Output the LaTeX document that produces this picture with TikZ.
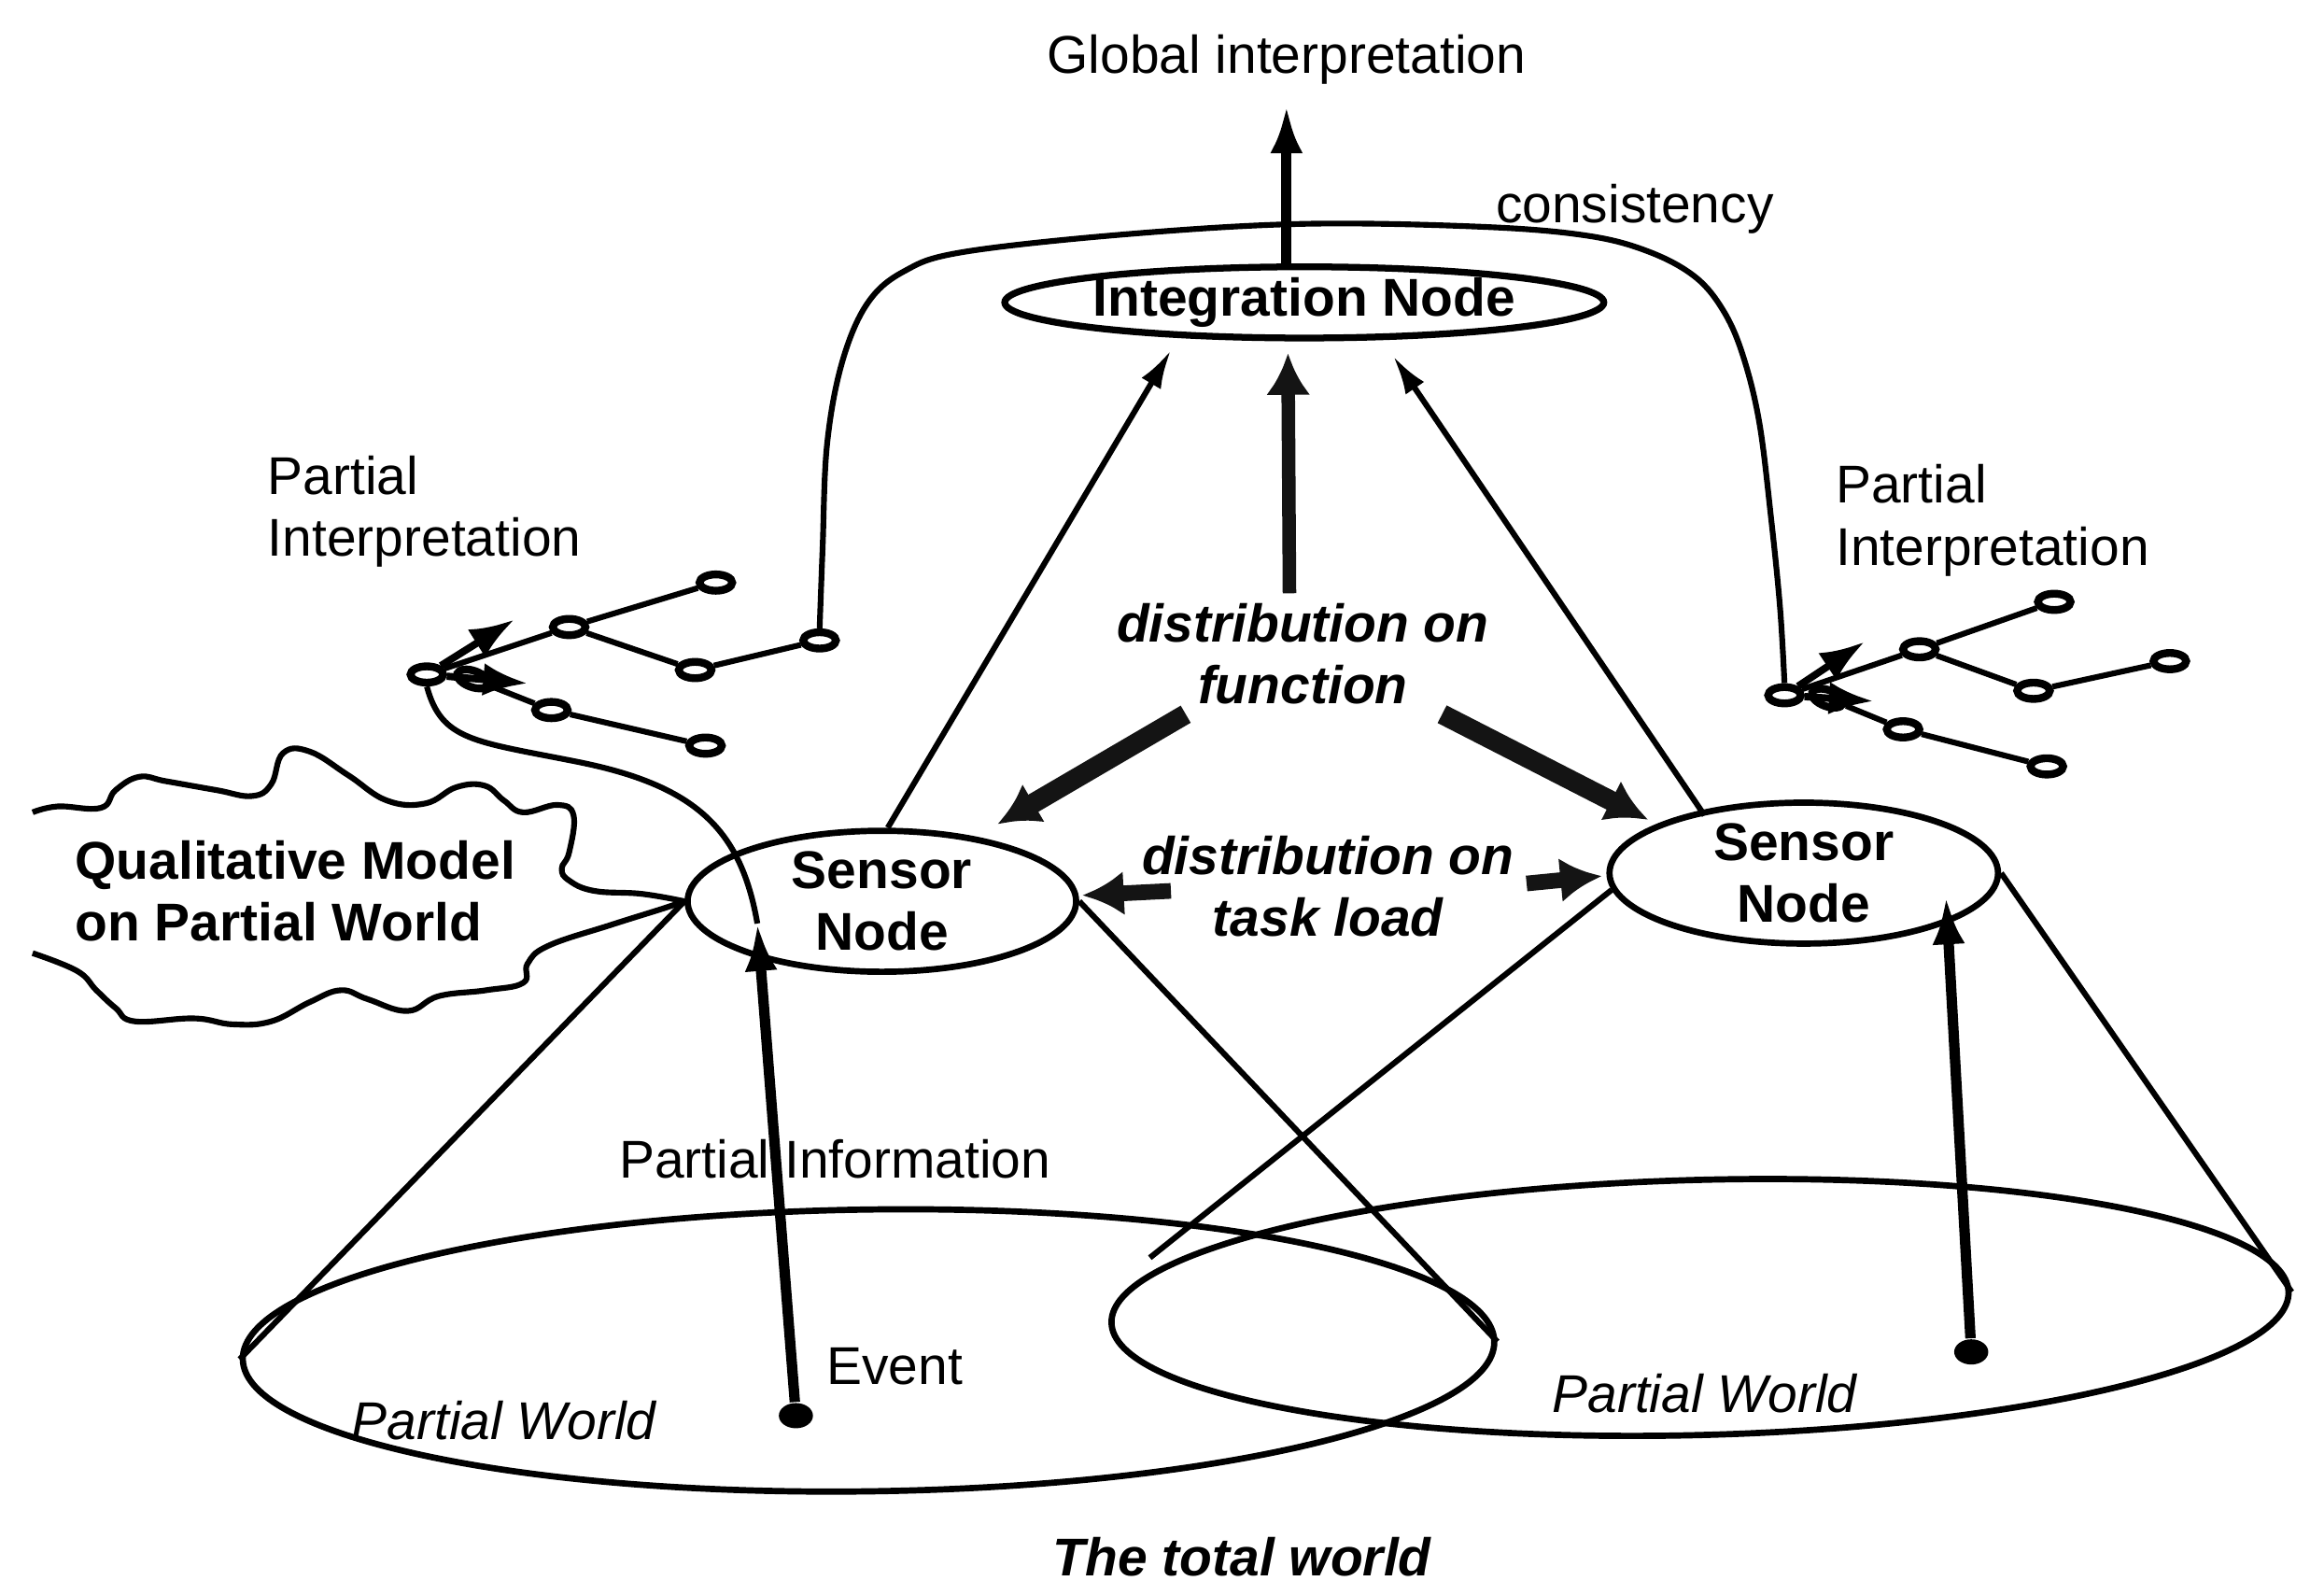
\documentclass[tikz,border=0pt]{standalone}
\usepackage{fontspec}
\setmainfont{Liberation Sans}
\usetikzlibrary{arrows.meta,calc,shapes.geometric}
\newcommand{\lbl}{\fontsize{10.2}{11.9}\selectfont}

\begin{document}
\begin{tikzpicture}[
  x=0.01cm, y=-0.01cm,
  >=Latex,
  font=\lbl,
  every node/.style={inner sep=0pt},
  wire/.style={line width=1.1pt},
  thinarrow/.style={wire, -{Latex[length=2.6mm, width=1.5mm]}},
  fatarrow/.style={line width=2pt, -{Latex[length=3.2mm, width=2.2mm]}},
  fuzzyarrow/.style={line width=#1, black!92, -{Latex[length=2.8mm, width=3mm]}},
  fuzzyarrow/.default=3.8pt,
  treearrow/.style={line width=1.4pt, -{Latex[length=3mm, width=2.2mm]}},
  integbox/.style={
    draw, ellipse, line width=1.3pt,
    minimum width=4.04cm, minimum height=0.48cm, font=\lbl\bfseries,
  },
  sensorbox/.style={
    draw, ellipse, line width=1.2pt, align=center,
    minimum width=2.62cm, minimum height=0.94cm, font=\lbl\bfseries,
  },
  worldbox/.style={draw, ellipse, line width=1.2pt},
  leaf/.style={
    draw, ellipse, line width=1.5pt, fill=white,
    minimum width=0.22cm, minimum height=0.11cm,
  },
  evdot/.style={ellipse, fill, minimum width=0.23cm, minimum height=0.17cm},
  boldlbl/.style={font=\lbl\bfseries, align=left},
  slantlbl/.style={font=\lbl\bfseries\itshape, align=center},
]
\useasboundingbox (0,0) rectangle (1568,1066);

% --- the two partial worlds and their cones ---
\node[worldbox, minimum width=8.44cm, minimum height=1.9cm, rotate=0.8] (lw) at (586,911) {};
\node[worldbox, minimum width=7.94cm, minimum height=1.72cm, rotate=1.5] (rw) at (1147,882) {};

\node[sensorbox] (sl) at (595,608) {Sensor\\Node};
\node[sensorbox] (rs) at (1217,589) {Sensor\\Node};

\draw[wire] (sl.west) -- (lw.west);
\draw[wire] (sl.east) -- (lw.east);
\draw[wire] (rs.185) -- ($(rw.west)+(28,-44)$);
\draw[wire] (rs.east) -- (rw.east);

% --- integration node on top ---
\node[integbox] (integ) at (880,204) {Integration Node};
\node (gi) at (868,40) {Global interpretation};
\node[anchor=base] (cons) at (1103,150) {consistency};

\draw[fatarrow] ($(integ.north)+(-12,0)$) -- ($(gi.south)+(0,14)$);
\draw[thinarrow] ($(sl.north)+(4,0)$) -- ($(integ.south)+(-90,6)$);
\draw[thinarrow] ($(rs.center)+(-67,-39)$) -- ($(integ.south)+(60,10)$);

% --- distribution labels and fuzzy arrows ---
\node[slantlbl] (fn) at (879,441) {distribution on\\function};
\node[slantlbl] (tl) at (896,598) {distribution on\\task load};

\draw[fuzzyarrow=2.6pt] ($(fn.north)+(-9,-6)$) -- ($(integ.south)+(-11,8)$);
\draw[fuzzyarrow] ($(fn.south)+(-79,6)$) -- ($(sl.center)+(78,-52)$);
\draw[fuzzyarrow] ($(fn.south)+(94,6)$) -- ($(rs.center)+(-105,-36)$);
\draw[fuzzyarrow=3pt] ($(tl.center)+(-106,3)$) -- ($(sl.east)+(2,-4)$);
\draw[fuzzyarrow=3pt] ($(tl.center)+(134,-2)$) -- ($(rs.west)+(-3,2)$);

% --- left partial interpretation tree ---
\node[leaf] (lr0) at (288,455) {};
\node[leaf, rotate=-20] (lr1) at (319,458) {};
\node[leaf] (la) at (384,423) {};
\node[leaf] (lb) at (483,393) {};
\node[leaf] (lc) at (469,452) {};
\node[leaf] (ld) at (553,432) {};
\node[leaf] (le) at (372,479) {};
\node[leaf] (lf) at (476,503) {};
\coordinate (lup) at (347,418);
\coordinate (ldn) at (356,461);
\draw[wire] (lr0) -- (la) -- (lb);
\draw[wire] (la) -- (lc) -- (ld);
\draw[wire] (lr0) -- (lr1) -- (le) -- (lf);
\draw[treearrow] (lr0) -- (lup);
\draw[treearrow] (lr0) -- (ldn);

% --- right partial interpretation tree ---
\node[leaf] (rr0) at (1204,469) {};
\node[leaf, rotate=-20] (rr1) at (1233,471) {};
\node[leaf] (ra) at (1295,438) {};
\node[leaf] (rb) at (1386,406) {};
\node[leaf] (rc) at (1372,466) {};
\node[leaf] (rd) at (1464,446) {};
\node[leaf] (re) at (1284,492) {};
\node[leaf] (rf) at (1381,517) {};
\coordinate (rup) at (1258,433);
\coordinate (rdn) at (1264,473);
\draw[wire] (rr0) -- (ra) -- (rb);
\draw[wire] (ra) -- (rc) -- (rd);
\draw[wire] (rr0) -- (rr1) -- (re) -- (rf);
\draw[treearrow] (rr0) -- (rup);
\draw[treearrow] (rr0) -- (rdn);

\node[align=left, anchor=west] (pil) at (180,345) {Partial\\Interpretation};
\node[align=left, anchor=west] (pir) at (1238,351) {Partial\\Interpretation};

% consistency loop over the integration node
\draw[wire] plot[smooth, tension=0.6] coordinates {(ld.north) (555,370) (558,300)
  (568,245) (585,205) (610,183) (650,170) (760,158) (880,151) (1000,153) (1071,159)
  (1113,170) (1144,187) (1163,210) (1176,240) (1187,285) (1195,350) (1201,410) (rr0.north)};

% --- qualitative model cloud ---
\draw[wire] plot[smooth, tension=0.7] coordinates {(22,548) (39,544) (68,545) (78,533)
  (94,524) (112,527) (146,533) (170,537) (183,529) (191,508) (209,507) (235,523)
  (261,540) (287,542) (308,531) (327,530) (340,540) (353,548) (376,543) (387,550)
  (384,575) (379,586) (384,594) (401,601) (433,603) (sl.west)};
\draw[wire] plot[smooth, tension=0.7] coordinates {(sl.west) (447,613) (412,624)
  (370,638) (356,650) (353,663) (328,668) (296,672) (275,682) (248,674) (230,668)
  (209,676) (183,689) (157,691) (131,687) (91,689) (78,680) (65,668) (52,655) (22,643)};
\node[boldlbl, anchor=west] (qm) at (50,601) {Qualitative Model\\on Partial World};

% tree root down into the left sensor node
\draw[wire] (lr0.south) .. controls (298,500) and (320,500) .. (390,514)
  .. controls (470,530) and (500,560) .. ($(sl.center)+(-84,15)$);

% --- events and partial information ---
\node[evdot] (evl) at (537,955) {};
\node[evdot] (evr) at (1330,912) {};
\draw[fatarrow] (evl) -- ($(sl.center)+(-84,15)$);
\draw[fatarrow] (evr) -- ($(rs.center)+(96,16)$);
\node[anchor=west] (pinfo) at (417,782) {Partial Information};
\node[anchor=west] (evt) at (557,922) {Event};

\node[font=\lbl\itshape] (pwl) at (340,958) {Partial World};
\node[font=\lbl\itshape] (pwr) at (1150,940) {Partial World};
\node[slantlbl] (tw) at (838,1050) {The total world};

\end{tikzpicture}
\end{document}
